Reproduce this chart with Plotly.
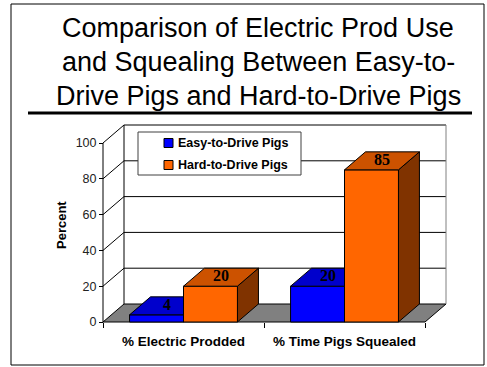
import plotly.graph_objects as go

# ---- data ----
categories = ["% Electric Prodded", "% Time Pigs Squealed"]
series_names = ["Easy-to-Drive Pigs", "Hard-to-Drive Pigs"]
easy_values = [4, 20]
hard_values = [20, 85]
y_ticks = [0, 20, 40, 60, 80, 100]
title_lines = [
    "Comparison of Electric Prod Use",
    "and Squealing Between Easy-to-",
    "Drive Pigs and Hard-to-Drive Pigs",
]

# ---- styling ----
face_colors = [
    dict(front="#0000FF", top="#0000CC", side="#000080"),
    dict(front="#FF6600", top="#CC5200", side="#803300"),
]
SANS = "Liberation Sans, Arial, sans-serif"
SERIF = "Liberation Serif, Times New Roman, serif"

W, H = 487, 367
FRONT_LEFT, FRONT_RIGHT = 103, 425     # front plane, pixels
ZERO_PX, TOP_PX = 322, 143             # y=0 and y=100 on the front plane
DEPTH_DX, DEPTH_DY = 21, 18            # depth offset of the back plane
BARGAP = 0.33

x_unit = (FRONT_RIGHT - FRONT_LEFT) / len(categories)
y_unit = (ZERO_PX - TOP_PX) / (y_ticks[-1] - y_ticks[0])
DX = DEPTH_DX / x_unit
DY = DEPTH_DY / y_unit

dom_left, dom_right = FRONT_LEFT - 5, FRONT_RIGHT + DEPTH_DX + 5
dom_top, dom_bot = TOP_PX - DEPTH_DY - 5, ZERO_PX + 10
x_lo = -0.5
x_hi = x_lo + len(categories)
x_range = [x_lo - (FRONT_LEFT - dom_left) / x_unit, x_lo + (dom_right - FRONT_LEFT) / x_unit]
y_range = [-(dom_bot - ZERO_PX) / y_unit, (ZERO_PX - dom_top) / y_unit]


def px_x(p):
    return p / W


def px_y(p):
    return 1 - p / H


def polys_trace(polys, fill, line_color="black", width=1):
    xs, ys = [], []
    for poly in polys:
        xs += [p[0] for p in poly] + [poly[0][0], None]
        ys += [p[1] for p in poly] + [poly[0][1], None]
    return go.Scatter(x=xs, y=ys, mode="lines", fill="toself", fillcolor=fill,
                      line=dict(color=line_color, width=width),
                      hoverinfo="skip", showlegend=False)


def lines_trace(segs, color="black", width=1):
    xs, ys = [], []
    for (a, b) in segs:
        xs += [a[0], b[0], None]
        ys += [a[1], b[1], None]
    return go.Scatter(x=xs, y=ys, mode="lines", line=dict(color=color, width=width),
                      hoverinfo="skip", showlegend=False)


fig = go.Figure()

top_val = y_ticks[-1]
# floor
fig.add_trace(polys_trace([[(x_lo, 0), (x_hi, 0), (x_hi + DX, DY), (x_lo + DX, DY)]], "#808080"))
# back wall gridlines and edges
grid = [((x_lo + DX, v + DY), (x_hi + DX, v + DY)) for v in y_ticks[1:]]
grid.append(((x_lo + DX, DY), (x_lo + DX, top_val + DY)))
# side wall lines
grid += [((x_lo, v), (x_lo + DX, v + DY)) for v in y_ticks[1:]]
# front value axis
grid.append(((x_lo, 0), (x_lo, top_val)))
fig.add_trace(lines_trace(grid))
fig.add_trace(lines_trace([((x_hi + DX, DY), (x_hi + DX, top_val + DY))], color="#808080"))

# 3-D columns
group_w = 1 - BARGAP
bar_w = group_w / len(series_names)
label_x, label_y, label_t = [], [], []
for j, vals in enumerate([easy_values, hard_values]):
    fronts, tops, sides = [], [], []
    for i, v in enumerate(vals):
        l = i - group_w / 2 + j * bar_w
        r = l + bar_w
        sides.append([(r, 0), (r + DX, DY), (r + DX, v + DY), (r, v)])
        fronts.append([(l, 0), (r, 0), (r, v), (l, v)])
        tops.append([(l, v), (r, v), (r + DX, v + DY), (l + DX, v + DY)])
        label_x.append(l + bar_w / 2 + DX / 2)
        label_y.append(v + DY / 2)
        label_t.append(str(v))
    c = face_colors[j]
    fig.add_trace(polys_trace(sides, c["side"]))
    fig.add_trace(polys_trace(fronts, c["front"]))
    fig.add_trace(polys_trace(tops, c["top"]))

fig.add_trace(go.Scatter(x=label_x, y=label_y, text=label_t, mode="text",
                         textposition="middle center",
                         textfont=dict(family=SERIF, size=16, color="black", weight="bold"),
                         hoverinfo="skip", showlegend=False, cliponaxis=False))

# ---- chrome: border, rule, legend, titles ----
shapes = [
    dict(type="rect", xref="paper", yref="paper", x0=px_x(11), x1=px_x(484),
         y0=px_y(365), y1=px_y(4), line=dict(color="black", width=1)),
    dict(type="line", xref="paper", yref="paper", x0=px_x(28), x1=px_x(472),
         y0=px_y(113), y1=px_y(113), line=dict(color="black", width=3)),
    dict(type="rect", xref="paper", yref="paper", x0=px_x(138), x1=px_x(301),
         y0=px_y(175), y1=px_y(132), fillcolor="white",
         line=dict(color="#404040", width=1), layer="above"),
]
annotations = []
for k, name in enumerate(series_names):
    cy = 143 + 22 * k
    shapes.append(dict(type="rect", xref="paper", yref="paper",
                       x0=px_x(164), x1=px_x(173), y0=px_y(cy + 4.5), y1=px_y(cy - 4.5),
                       fillcolor=face_colors[k]["front"],
                       line=dict(color="black", width=1), layer="above"))
    annotations.append(dict(xref="paper", yref="paper", x=px_x(176), y=px_y(cy),
                            xanchor="left", yanchor="middle", showarrow=False, text=name,
                            font=dict(family=SANS, size=12.5, color="black", weight="bold")))

for k, line in enumerate(title_lines):
    annotations.append(dict(xref="paper", yref="paper", x=px_x(258), y=px_y(28 + 34 * k),
                            xanchor="center", yanchor="middle", showarrow=False, text=line,
                            font=dict(family=SANS, size=27, color="black")))

annotations.append(dict(xref="paper", yref="paper", x=px_x(62), y=px_y(225),
                        xanchor="center", yanchor="middle", showarrow=False, text="Percent",
                        textangle=-90,
                        font=dict(family=SANS, size=13, color="black", weight="bold")))

fig.update_layout(
    width=W, height=H, margin=dict(l=0, r=0, t=0, b=0),
    paper_bgcolor="white", plot_bgcolor="white",
    showlegend=False, shapes=shapes, annotations=annotations,
    xaxis=dict(domain=[px_x(dom_left), px_x(dom_right)], range=x_range,
               anchor="free", position=px_y(ZERO_PX),
               tickvals=list(range(len(categories))), ticktext=categories, ticks="",
               ticklabelstandoff=9,
               minor=dict(tickvals=[x_lo + k for k in range(len(categories) + 1)],
                          ticks="outside", ticklen=5, tickcolor="black", showgrid=False),
               tickfont=dict(family=SANS, size=13.5, color="black", weight="bold"),
               showgrid=False, zeroline=False, showline=False, fixedrange=True),
    yaxis=dict(domain=[px_y(dom_bot), px_y(dom_top)], range=y_range,
               anchor="free", position=px_x(FRONT_LEFT),
               tickvals=y_ticks, ticks="outside", ticklen=4, tickcolor="black",
               tickfont=dict(family=SANS, size=12.5, color="#222222"),
               showgrid=False, zeroline=False, showline=False, fixedrange=True),
)

fig.write_html("out.html")
